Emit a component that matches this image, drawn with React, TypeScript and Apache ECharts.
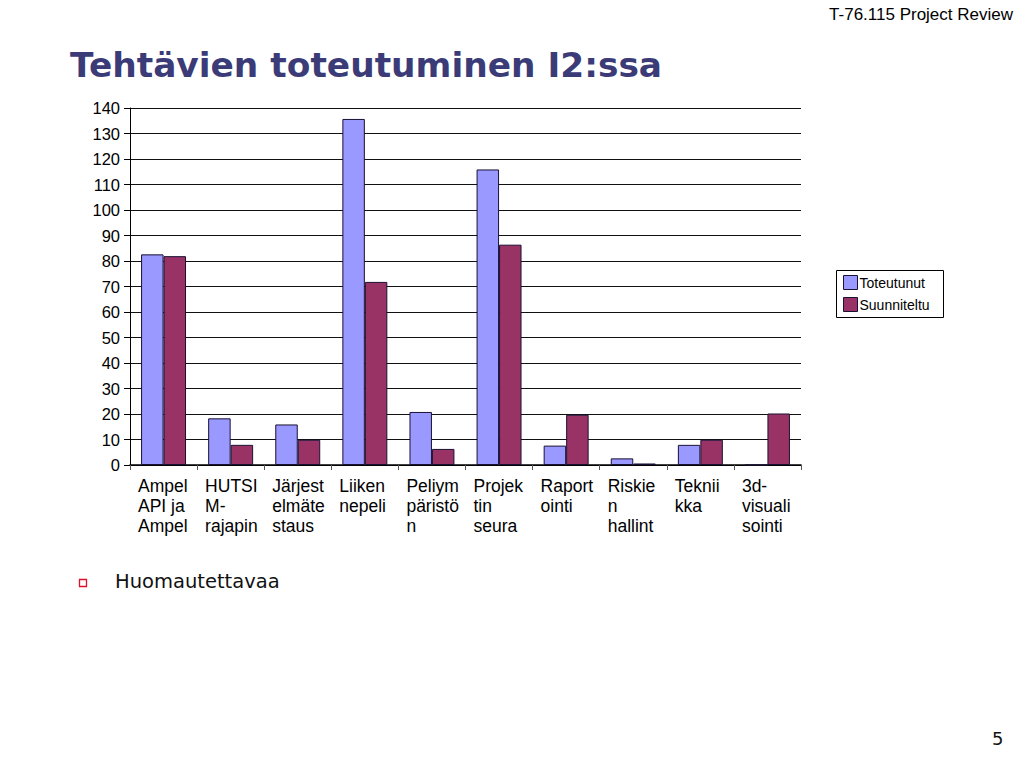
import React, { useEffect, useRef } from "react";
import * as echarts from "echarts";

const categories = [
  "Ampel\nAPI ja\nAmpel",
  "HUTSI\nM-\nrajapin",
  "Järjest\nelmäte\nstaus",
  "Liiken\nnepeli",
  "Peliym\npäristö\nn",
  "Projek\ntin\nseura",
  "Raport\nointi",
  "Riskie\nn\nhallint",
  "Teknii\nkka",
  "3d-\nvisuali\nsointi",
];
const toteutunut = [82.6, 18.3, 15.9, 135.7, 20.8, 115.9, 7.6, 2.6, 7.9, 0];
const suunniteltu = [81.9, 7.9, 9.9, 71.8, 6.3, 86.4, 19.7, 0.6, 9.9, 20.2];
const seriesNames = ["Toteutunut", "Suunniteltu"];
const yMin = 0;
const yMax = 140;
const yStep = 10;

export default function App() {
  const ref = useRef<HTMLDivElement>(null);
  useEffect(() => {
    if (!ref.current) return;
    const chart = echarts.init(ref.current, null, { renderer: "svg" });
    const axisFont = "Liberation Sans, Arial, sans-serif";
    chart.setOption({
      animation: false,
      backgroundColor: "#ffffff",
      textStyle: { fontFamily: axisFont },
      graphic: [
        {
          type: "text",
          right: 11,
          top: 6,
          style: {
            text: "T-76.115 Project Review",
            font: "17px 'Liberation Sans', Arial, sans-serif",
            fill: "#000000",
          },
        },
        {
          type: "text",
          left: 70,
          top: 48,
          style: {
            text: "Tehtävien toteutuminen I2:ssa",
            font: "bold 34.4px 'DejaVu Sans', Verdana, sans-serif",
            fill: "#3b3b78",
          },
        },
        {
          type: "rect",
          shape: { x: 79.5, y: 579.5, width: 7, height: 7 },
          style: { fill: "none", stroke: "#e0102a", lineWidth: 1.3 },
        },
        {
          type: "text",
          left: 115,
          top: 571,
          style: {
            text: "Huomautettavaa",
            font: "19.5px 'DejaVu Sans', Verdana, sans-serif",
            fill: "#111111",
          },
        },
        {
          type: "text",
          left: 992,
          top: 729,
          style: {
            text: "5",
            font: "18px 'DejaVu Sans', Verdana, sans-serif",
            fill: "#111111",
          },
        },
        {
          type: "rect",
          shape: { x: 836.5, y: 270.5, width: 107, height: 47 },
          style: { fill: "#ffffff", stroke: "#000000", lineWidth: 1 },
          z: 0,
        },
      ],
      legend: {
        orient: "vertical",
        left: 838,
        top: 270,
        icon: "rect",
        itemWidth: 14,
        itemHeight: 14,
        itemGap: 7,
        z: 10,
        data: seriesNames,
        itemStyle: { borderColor: "#1a1033", borderWidth: 1 },
        textStyle: { fontSize: 14, color: "#000", fontFamily: axisFont, padding: [0, 0, 0, -3] },
      },
      grid: { left: 130, right: 223, top: 108, bottom: 303, containLabel: false },
      xAxis: [
        {
          type: "category",
          data: categories,
          axisLine: { show: true, lineStyle: { color: "#000", width: 1.5 } },
          axisTick: { show: true, length: 5, lineStyle: { color: "#555" } },
          axisLabel: { show: false },
        },
        {
          type: "category",
          data: [...categories, ""],
          boundaryGap: false,
          position: "bottom",
          axisLine: { show: false },
          axisTick: { show: false },
          axisLabel: {
            show: true,
            interval: 0,
            align: "left",
            verticalAlign: "top",
            margin: 11,
            padding: [0, 0, 0, 8],
            fontSize: 17.5,
            lineHeight: 20,
            color: "#000",
            fontFamily: axisFont,
          },
        },
      ],
      yAxis: {
        type: "value",
        min: yMin,
        max: yMax,
        interval: yStep,
        axisLine: { show: true, lineStyle: { color: "#000", width: 1 } },
        axisTick: { show: true, length: 6, lineStyle: { color: "#000" } },
        axisLabel: { fontSize: 16.5, color: "#000", margin: 10, fontFamily: axisFont },
        splitLine: { show: true, lineStyle: { color: "#111", width: 1 } },
      },
      series: [
        {
          name: seriesNames[0],
          type: "bar",
          data: toteutunut,
          barWidth: "33.5%",
          barGap: "0%",
          itemStyle: { color: "#9999ff", borderColor: "#1a1033", borderWidth: 1 },
        },
        {
          name: seriesNames[1],
          type: "bar",
          data: suunniteltu,
          barWidth: "33.5%",
          barGap: "0%",
          itemStyle: { color: "#993366", borderColor: "#1a1033", borderWidth: 1 },
        },
      ],
    });
    return () => chart.dispose();
  }, []);
  return (
    <div
      ref={ref}
      style={{ position: "fixed", left: 0, top: 0, width: 1024, height: 768 }}
    />
  );
}
